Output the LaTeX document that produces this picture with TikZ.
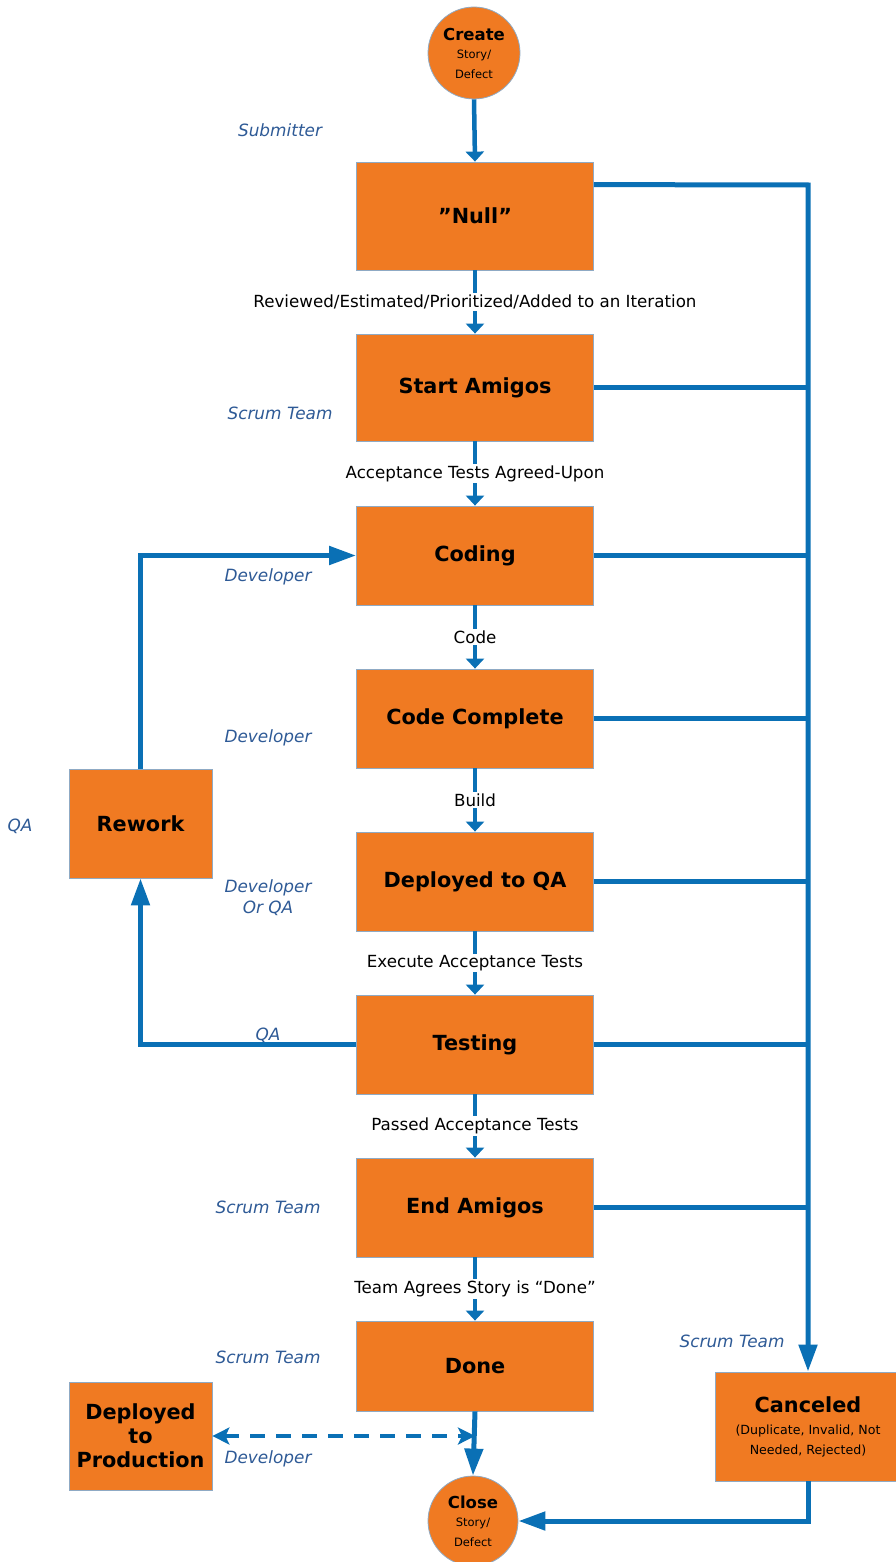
\documentclass[tikz,border=0pt]{standalone}
\usepackage{fontspec}
\setmainfont{DejaVu Sans}
\usetikzlibrary{arrows.meta}
\definecolor{orng}{HTML}{F07A22}
\definecolor{lineblue}{HTML}{0A70B5}
\definecolor{lblblue}{HTML}{2E5A96}
\definecolor{bordr}{HTML}{8FAAC4}
\tikzset{
  box/.style={rectangle, fill=orng, draw=bordr, line width=0.8pt, inner sep=0pt,
    minimum width=237pt, align=center, font=\bfseries\fontsize{20.8}{24}\selectfont},
  sidebox/.style={box, minimum width=143pt},
  endpt/.style={circle, fill=orng, draw=bordr, line width=0.8pt, inner sep=0pt, align=center},
  conn/.style={draw=lineblue, line width=5pt},
  longtip/.style={conn, -{Triangle[length=27pt,width=18pt]}},
  shorttip/.style={draw=lineblue, line width=4.5pt, -{Triangle[length=10pt,width=18pt]}},
  dasharrow/.style={draw=lineblue, line width=4.5pt, dash pattern=on 15pt off 11pt,
    {Stealth[length=17pt,width=17pt,inset=4pt]}-{Stealth[length=17pt,width=17pt,inset=4pt]}},
  role/.style={text=lblblue, font=\itshape\fontsize{16.9}{21}\selectfont, align=center},
  trans/.style={fill=white, inner sep=1.5pt, font=\fontsize{16.7}{19}\selectfont},
}
\begin{document}
\begin{tikzpicture}[x=1pt,y=-1pt]
\useasboundingbox (0,0) rectangle (895,1562);

% nodes
\node[endpt, minimum size=92pt] (create) at (474,53)
  {{\fontsize{16.5}{18}\selectfont\bfseries Create}\\[6pt]{\fontsize{11.5}{13}\selectfont Story/}\\[8pt]{\fontsize{11.5}{13}\selectfont Defect}};
\node[box, minimum height=108pt] (null) at (475,216) {”Null”};
\node[box, minimum height=107pt] (sa) at (475,387.5) {Start Amigos};
\node[box, minimum height=99pt] (cod) at (475,555.5) {Coding};
\node[box, minimum height=99pt] (cc) at (475,718.5) {Code Complete};
\node[box, minimum height=99pt] (dqa) at (475,881.5) {Deployed to QA};
\node[box, minimum height=99pt] (test) at (475,1044.5) {Testing};
\node[box, minimum height=99pt] (ea) at (475,1207.5) {End Amigos};
\node[box, minimum height=90pt] (done) at (475,1366) {Done};
\node[sidebox, minimum height=109pt] (rework) at (140.5,823.5) {Rework};
\node[sidebox, minimum height=108pt] (dep) at (140.5,1436) {Deployed\\to\\Production};
\node[box, minimum width=186pt, minimum height=109pt] (canc) at (808,1426.5)
  {Canceled\\[-2pt]{\normalfont\fontsize{12.6}{15}\selectfont (Duplicate, Invalid, Not}\\[-4pt]{\normalfont\fontsize{12.6}{15}\selectfont Needed, Rejected)}};
\node[endpt, minimum size=90pt] (close) at (473,1521)
  {{\fontsize{16.5}{18}\selectfont\bfseries Close}\\[6pt]{\fontsize{11.5}{13}\selectfont Story/}\\[8pt]{\fontsize{11.5}{13}\selectfont Defect}};

% main flow
\draw[shorttip] (create.south) -- (null.north);
\draw[shorttip] (null.south) -- node[trans] (t1) {Reviewed/Estimated/Prioritized/Added to an Iteration} (sa.north);
\draw[shorttip] (sa.south) -- node[trans] (t2) {Acceptance Tests Agreed-Upon} (cod.north);
\draw[shorttip] (cod.south) -- node[trans] (t3) {Code} (cc.north);
\draw[shorttip] (cc.south) -- node[trans] (t4) {Build} (dqa.north);
\draw[shorttip] (dqa.south) -- node[trans] (t5) {Execute Acceptance Tests} (test.north);
\draw[shorttip] (test.south) -- node[trans] (t6) {Passed Acceptance Tests} (ea.north);
\draw[shorttip] (ea.south) -- node[trans] (t7) {Team Agrees Story is “Done”} (done.north);
\draw[longtip] (done.south) -- (close.north);

% cancel bus
\coordinate (bus) at (808,185);
\draw[longtip] ([yshift=-23pt]null.north east) -- (bus) -- (canc.north);
\foreach \n in {sa,cod,cc,dqa,test,ea} {
  \draw[conn] (\n.east) -- (\n.east -| bus);
}
\draw[longtip] (canc.south) |- (close.east);

% rework loop
\draw[longtip] (rework.north) |- (cod.west);
\draw[longtip] (test.west) -| (rework.south);

% deploy to production
\draw[dasharrow] (dep.east) -- (dep.east -| done.south);

% role labels
\node[role] (r1) at (280,130) {Submitter};
\node[role] (r2) at (280,413) {Scrum Team};
\node[role] (r3) at (268,577) {Developer};
\node[role] (r4) at (268,738) {Developer};
\node[role] (r5) at (20,826) {QA};
\node[role] (r6) at (268,898) {Developer\\Or QA};
\node[role] (r7) at (268,1035) {QA};
\node[role] (r8) at (268,1207) {Scrum Team};
\node[role] (r9) at (268,1357) {Scrum Team};
\node[role] (r10) at (268,1459) {Developer};
\node[role] (r11) at (732,1341) {Scrum Team};
\end{tikzpicture}
\end{document}
